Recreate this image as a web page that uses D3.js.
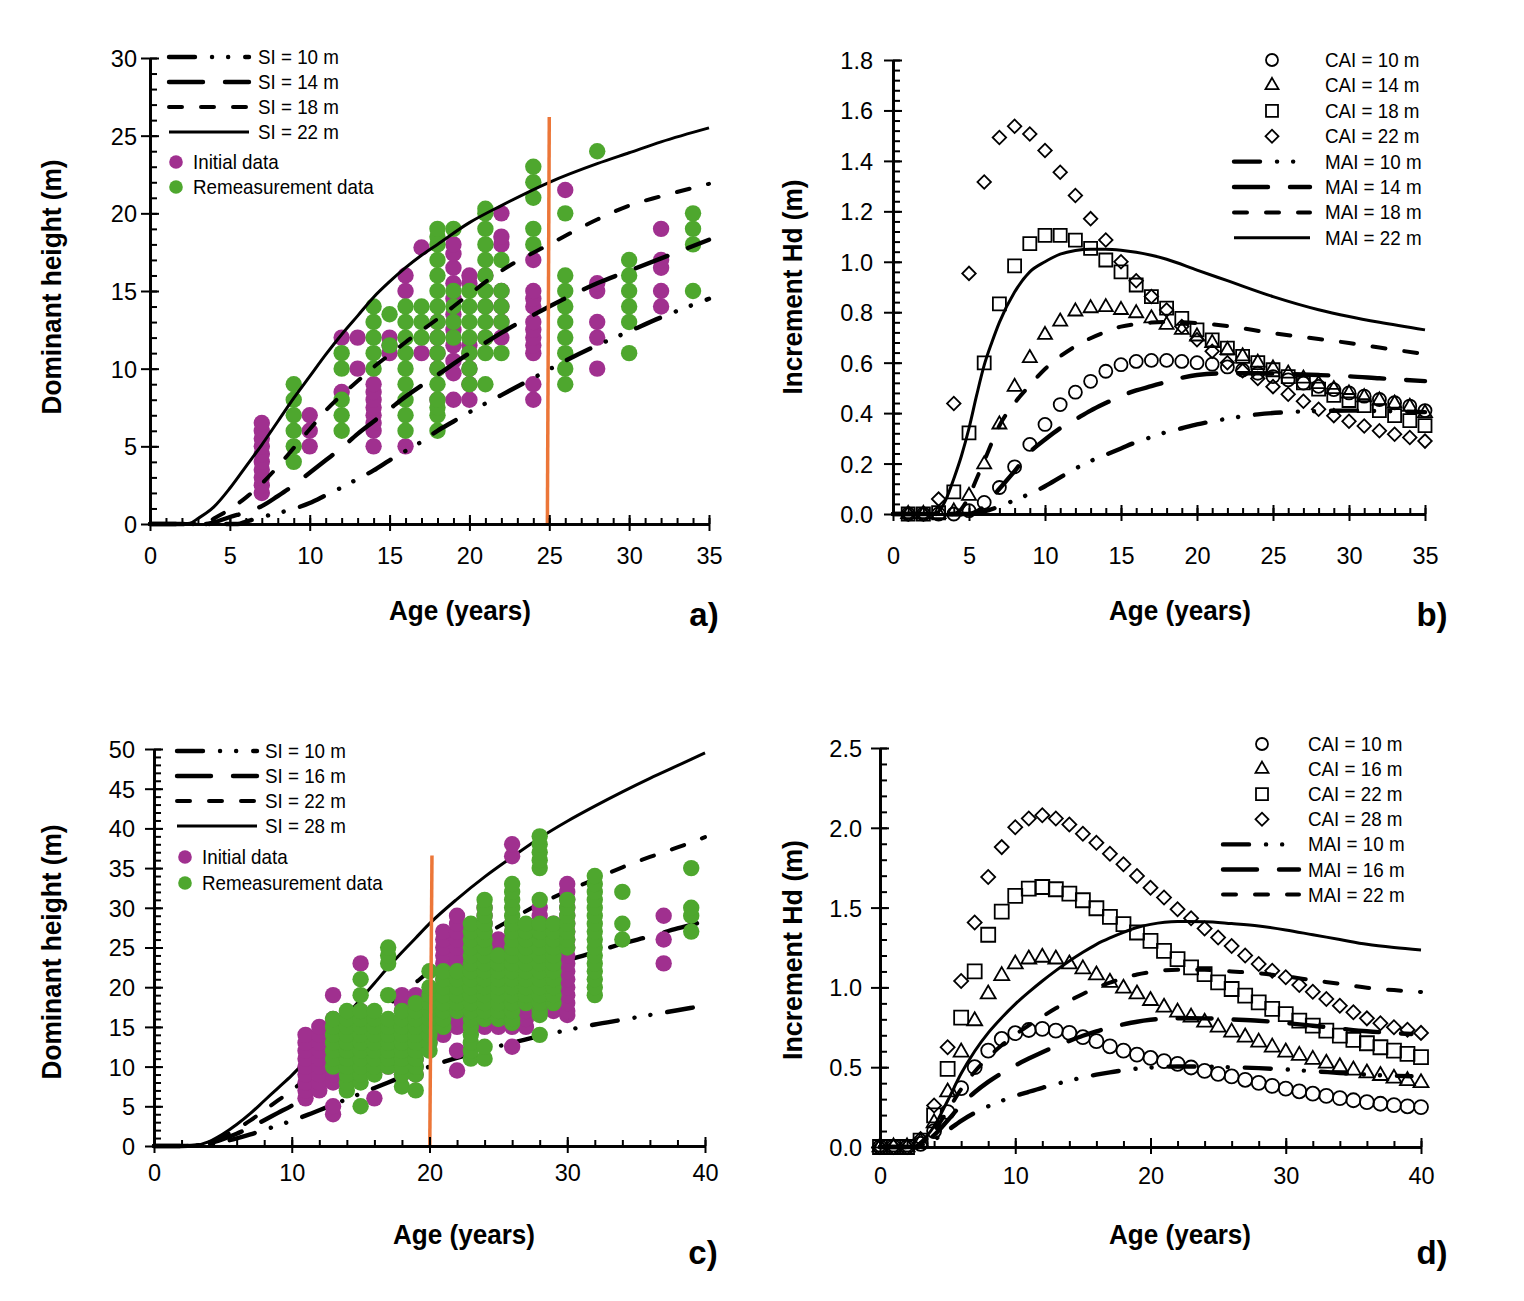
<!DOCTYPE html>
<html>
<head>
<meta charset="utf-8">
<script src="https://cdn.jsdelivr.net/npm/d3@7"></script>
<style>
  body { margin: 0; background: #fff; }
  svg { display: block; }
</style>
</head>
<body>
<svg id="chart" width="1524" height="1301"></svg>
<script>
// ---------- panel a : site index curves + observed heights ----------
const aXTicks = [0, 5, 10, 15, 20, 25, 30, 35]
const aYTicks = [0, 5, 10, 15, 20, 25, 30]
const aSI10 = [[0,0],[5.5,0],[6,0.15],[7,0.45],[8,0.7],[9,0.98],[10,1.35],[11,1.85],[12,2.35],[13,2.9],[14,3.45],[15,4.1],[16,4.7],[17,5.3],[18,6.0],[19,6.6],[20,7.2],[22,8.3],[24,9.4],[26,10.5],[28,11.5],[30,12.4],[32,13.3],[35,14.5]]
const aSI14 = [[0,0],[3.5,0],[4,0.1],[5,0.45],[6,0.75],[7,1.15],[8,1.8],[9,2.5],[10,3.3],[11,4.1],[12,4.9],[13,5.8],[14,6.6],[15,7.4],[16,8.2],[18,9.6],[20,11.0],[22,12.3],[25,14],[28,15.5],[30,16.3],[32,17.1],[35,18.3]]
const aSI18 = [[0,0],[3.4,0],[4,0.35],[5,0.95],[6,1.7],[7,2.6],[8,3.7],[9,4.9],[10,6.1],[11,7.3],[12,8.3],[13,9.2],[14,10.1],[15,10.9],[16,11.7],[18,13.2],[20,14.8],[22,16.3],[25,18],[28,19.6],[30,20.5],[32,21.1],[35,21.9]]
const aSI22 = [[0,0],[2,0],[2.5,0.05],[3,0.35],[4,1.1],[5,2.3],[6,3.7],[7,5.1],[8,6.6],[9,8.1],[10,9.5],[11,10.9],[12,12.2],[13,13.4],[14,14.6],[15,15.6],[16,16.5],[17,17.3],[18,18.0],[20,19.4],[22,20.5],[25,22],[28,23.2],[30,23.9],[32,24.6],[35,25.5]]
const aRefLine = [[25.0, 26.2], [24.88, 0]]
// [age, heights]
const aInitial = [
  [7, [2, 2.5, 3, 3.5, 4, 4.5, 5, 5.5, 6, 6.5]],
  [10, [5, 6, 7]],
  [12, [8.5, 12]],
  [13, [10, 12]],
  [14, [5, 6, 6.5, 7, 7.5, 8, 8.5, 9]],
  [15, [11, 11.5, 12]],
  [16, [5, 15, 16]],
  [17, [11, 17.8]],
  [18, [8, 10, 11, 12, 13]],
  [19, [8, 9.7, 10.5, 11.5, 12.5, 13.5, 14.5, 15.5, 16.5, 17.4, 18]],
  [20, [8, 9, 10, 11, 11.5, 15.5, 16]],
  [21, [12, 14, 16]],
  [22, [12, 13, 14, 15, 18, 18.5, 20]],
  [24, [8, 9, 11, 11.5, 12, 12.5, 13, 14, 14.5, 15, 17]],
  [26, [21.5]],
  [28, [10, 12, 13, 15, 15.5]],
  [32, [14, 15, 16.5, 17, 19]]
]
const aRemeasured = [
  [9, [4, 5, 6, 7, 8, 9]],
  [12, [6, 7, 8, 10, 11]],
  [14, [10, 11, 12, 13, 14]],
  [15, [11.5, 13.5]],
  [16, [6, 7, 8, 9, 10, 11, 12, 13, 14]],
  [17, [12, 13, 14]],
  [18, [6, 7, 7.5, 8, 9, 10, 11, 12, 13, 14, 15, 16, 17, 18, 18.5, 19]],
  [19, [12, 13, 14, 15, 19]],
  [20, [9, 10, 11, 12, 13, 14, 15]],
  [21, [9, 11, 12, 13, 14, 15, 16, 17, 18, 19, 20, 20.3]],
  [22, [11, 13, 14, 15, 17]],
  [24, [18, 19, 21, 22, 23]],
  [26, [9, 10, 11, 12, 13, 14, 15, 16, 20]],
  [28, [24]],
  [30, [11, 13, 14, 15, 16, 17]],
  [34, [15, 18, 19, 20]]
]

// ---------- panel b : increments, SI 10-22 ----------
const bXTicks = [0, 5, 10, 15, 20, 25, 30, 35]
const bYTicks = [0, 0.2, 0.4, 0.6, 0.8, 1.0, 1.2, 1.4, 1.6, 1.8]
const bAges = d3.range(1, 36)
const bCAI10 = [0,0,0,0,0.013,0.046,0.105,0.187,0.276,0.355,0.434,0.483,0.526,0.566,0.592,0.605,0.609,0.609,0.605,0.600,0.594,0.583,0.571,0.558,0.545,0.532,0.519,0.506,0.493,0.480,0.467,0.454,0.441,0.428,0.410]
const bCAI14 = [0,0,0,0.01,0.072,0.197,0.355,0.504,0.618,0.71,0.763,0.803,0.816,0.82,0.809,0.796,0.776,0.75,0.73,0.704,0.678,0.65,0.625,0.6,0.577,0.557,0.537,0.515,0.495,0.478,0.463,0.45,0.438,0.425,0.40]
const bCAI18 = [0,0,0.005,0.088,0.322,0.599,0.833,0.984,1.072,1.105,1.105,1.086,1.053,1.007,0.96,0.908,0.862,0.816,0.776,0.73,0.69,0.658,0.625,0.6,0.572,0.545,0.52,0.495,0.47,0.45,0.43,0.41,0.39,0.37,0.35]
const bCAI22 = [0,0,0.059,0.438,0.954,1.316,1.493,1.537,1.507,1.441,1.355,1.263,1.171,1.086,1.0,0.925,0.862,0.809,0.743,0.691,0.645,0.6,0.568,0.537,0.505,0.475,0.447,0.415,0.39,0.368,0.349,0.33,0.316,0.303,0.289]
const bMAI10 = [[0,0],[5,0],[6,0.01],[7,0.03],[8,0.055],[9,0.08],[10,0.11],[11,0.145],[12,0.18],[13,0.21],[14,0.235],[15,0.26],[16,0.285],[17,0.305],[18,0.325],[19,0.34],[20,0.355],[22,0.378],[24,0.395],[26,0.404],[28,0.408],[30,0.41],[32,0.408],[35,0.404]]
const bMAI14 = [[0,0],[5,0],[5.5,0.01],[6,0.03],[7,0.1],[8,0.17],[9,0.245],[10,0.295],[11,0.34],[12,0.375],[13,0.41],[14,0.44],[15,0.468],[16,0.49],[17,0.507],[18,0.524],[19,0.54],[20,0.551],[22,0.558],[24,0.558],[26,0.555],[28,0.551],[30,0.546],[32,0.538],[35,0.527]]
const bMAI18 = [[0,0],[4,0],[4.5,0.02],[5,0.07],[5.5,0.14],[6,0.21],[7,0.35],[8,0.44],[9,0.51],[10,0.575],[11,0.625],[12,0.665],[13,0.697],[14,0.722],[15,0.743],[16,0.753],[17,0.759],[18,0.761],[19,0.76],[20,0.757],[22,0.745],[25,0.717],[28,0.694],[30,0.678],[32,0.66],[35,0.634]]
const bMAI22 = [[0,0],[2.5,0],[3,0.01],[3.5,0.06],[4,0.14],[4.5,0.23],[5,0.34],[5.5,0.47],[6,0.59],[6.5,0.68],[7,0.76],[8,0.88],[9,0.96],[10,1.0],[11,1.03],[12,1.045],[13,1.05],[14,1.05],[15,1.046],[16,1.038],[17,1.026],[18,1.01],[20,0.967],[22,0.925],[25,0.862],[28,0.81],[30,0.783],[32,0.76],[35,0.73]]

// ---------- panel c : site index curves + observed heights ----------
const cXTicks = [0, 10, 20, 30, 40]
const cYTicks = [0, 5, 10, 15, 20, 25, 30, 35, 40, 45, 50]
const cSI10 = [[0,0],[2,0],[3,0.03],[4,0.2],[5,0.54],[6,0.96],[7,1.46],[8,2.03],[9,2.6],[10,3.18],[11,3.82],[12,4.5],[13,5.2],[14,5.9],[15,6.6],[16,7.3],[17,8.0],[18,8.7],[19,9.35],[20,10],[22,11.1],[24,12.1],[26,13.0],[28,13.85],[30,14.6],[32,15.3],[34,15.9],[36,16.5],[38,17.1],[40,17.7]]
const cSI16 = [[0,0],[2,0],[3,0.05],[4,0.32],[5,0.86],[6,1.54],[7,2.34],[8,3.25],[9,4.17],[10,5.08],[11,6.1],[12,7.2],[13,8.3],[14,9.4],[15,10.6],[16,11.7],[17,12.85],[18,13.9],[19,15.0],[20,16],[22,17.8],[24,19.4],[26,20.8],[28,22.2],[30,23.4],[32,24.4],[34,25.5],[36,26.4],[38,27.4],[40,28.3]]
const cSI22 = [[0,0],[2,0],[3,0.07],[4,0.44],[5,1.18],[6,2.12],[7,3.22],[8,4.48],[9,5.74],[10,7.0],[11,8.4],[12,9.9],[13,11.5],[14,13.0],[15,14.5],[16,16.1],[17,17.7],[18,19.2],[19,20.6],[20,22],[22,24.4],[24,26.6],[26,28.6],[28,30.5],[30,32.1],[32,33.6],[34,35.1],[36,36.4],[38,37.6],[40,38.9]]
const cSI28 = [[0,0],[2,0],[3,0.09],[4,0.56],[5,1.5],[6,2.7],[7,4.1],[8,5.7],[9,7.3],[10,8.9],[11,10.7],[12,12.6],[13,14.6],[14,16.5],[15,18.5],[16,20.5],[17,22.5],[18,24.4],[19,26.2],[20,28],[22,31.1],[24,33.9],[26,36.4],[28,38.8],[30,40.9],[32,42.8],[34,44.6],[36,46.3],[38,47.9],[40,49.5]]
const cRefLine = [[20.18, 36.6], [20.02, 0]]
const cInitial = [
  [11, [6, 7, 8, 9, 10, 11, 12, 13, 14]],
  [12, [7, 8, 9, 10, 11, 12, 13, 14, 15]],
  [13, [4, 5, 8, 9, 10, 11, 12, 13, 14, 15, 16, 19]],
  [14, [11, 12, 13, 14]],
  [15, [11, 12, 13, 14, 15, 16, 17, 23]],
  [16, [6, 11, 12, 13, 14, 15, 16]],
  [17, [10, 11, 12, 13, 14]],
  [18, [9, 10, 11, 12, 13, 14, 15, 16, 17, 18, 19]],
  [19, [9, 10, 11, 12, 13, 14, 15, 16, 17, 18, 19]],
  [20, [13, 14, 15, 16, 17, 18, 19]],
  [21, [14, 15, 16, 17, 18, 19, 20, 21, 22, 23, 24, 25, 26, 27]],
  [22, [9.5, 12, 15, 16, 17, 18, 19, 20, 21, 22, 23, 24, 25, 26, 27, 28, 29]],
  [23, [16, 17, 18, 19, 20, 21, 22, 23, 24]],
  [24, [15, 25, 26, 27, 28, 29, 30]],
  [25, [15, 16, 17, 18, 19, 20, 21, 22, 23, 24, 25, 26]],
  [26, [12.5, 15, 16, 17, 18, 19, 20, 21, 22, 23, 24, 25, 26, 27, 28, 36.5, 38]],
  [27, [15, 16, 17, 18, 19, 20, 21, 22, 23, 24, 25, 26]],
  [28, [17, 18, 19, 20, 21, 22, 23, 24, 25, 26, 27, 28, 29, 30]],
  [29, [17, 18, 19, 20, 21, 22, 23, 24, 25, 26, 27, 28]],
  [30, [16.5, 17, 18, 19, 20, 21, 22, 23, 24, 25, 26, 27, 28, 29, 30, 31, 32, 33]],
  [37, [23, 26, 29]]
]
const cRemeasured = [
  [13, [10, 11, 12, 13, 14, 15, 16]],
  [14, [7, 8, 9, 10, 11, 12, 13, 14, 15, 16, 17]],
  [15, [5, 8, 9, 10, 11, 12, 13, 14, 15, 16, 17, 19, 21]],
  [16, [9, 10, 11, 12, 13, 14, 15, 16, 17]],
  [17, [10, 11, 12, 13, 14, 15, 16, 19, 23, 24, 25]],
  [18, [7.5, 9, 10, 11, 12, 13, 14, 15, 16, 17]],
  [19, [7, 9, 10, 11, 12, 13, 14, 15, 16, 17, 18]],
  [20, [12, 13, 14, 15, 16, 17, 18, 19, 20, 22]],
  [21, [15, 16, 17, 18, 19, 20, 21, 22]],
  [22, [17, 18, 19, 20, 21, 22]],
  [23, [11, 12, 13, 14, 15, 16, 17, 18, 19, 20, 21, 22, 23, 24, 25, 26, 27, 28]],
  [24, [11, 12.5, 16, 17, 18, 19, 20, 21, 22, 23, 24, 25, 26, 27, 28, 29, 30, 31]],
  [25, [16, 17, 18, 19, 20, 21, 22, 23, 24]],
  [26, [15.5, 16, 17, 18, 19, 20, 21, 22, 23, 24, 25, 26, 27, 28, 29, 30, 31, 32, 33]],
  [27, [18, 19, 20, 21, 22, 23, 24, 25, 26, 27, 28]],
  [28, [14, 16.5, 17, 18, 19, 20, 21, 22, 23, 24, 25, 26, 27, 28, 31, 35, 36, 37, 38, 39]],
  [29, [18, 19, 20, 21, 22, 23, 24, 25, 26, 27, 28]],
  [30, [25, 26, 27, 28, 29, 30, 31]],
  [32, [19, 20, 21, 22, 23, 24, 25, 26, 27, 28, 29, 30, 31, 32, 33, 34]],
  [34, [26, 28, 32]],
  [39, [27, 29, 30, 35]]
]

// ---------- panel d : increments, SI 10-28 ----------
const dXTicks = [0, 10, 20, 30, 40]
const dYTicks = [0, 0.5, 1.0, 1.5, 2.0, 2.5]
const dAges = d3.range(0, 41)
const dCAI10 = [0,0,0,0.02,0.1,0.219,0.369,0.5,0.604,0.677,0.713,0.733,0.74,0.729,0.715,0.688,0.663,0.631,0.604,0.579,0.558,0.538,0.521,0.498,0.477,0.458,0.442,0.421,0.402,0.383,0.366,0.349,0.334,0.32,0.306,0.293,0.281,0.271,0.262,0.255,0.25]
const dCAI16 = [0,0,0,0.03,0.15,0.344,0.594,0.79,0.958,1.073,1.146,1.177,1.188,1.177,1.146,1.115,1.077,1.031,0.994,0.958,0.917,0.875,0.844,0.813,0.781,0.75,0.719,0.688,0.656,0.625,0.594,0.573,0.548,0.524,0.502,0.481,0.463,0.447,0.43,0.415,0.402]
const dCAI22 = [0,0,0,0.04,0.198,0.49,0.81,1.1,1.33,1.475,1.573,1.619,1.629,1.615,1.588,1.546,1.496,1.442,1.396,1.344,1.292,1.229,1.177,1.125,1.083,1.031,0.99,0.948,0.906,0.865,0.833,0.792,0.76,0.729,0.698,0.671,0.65,0.625,0.604,0.583,0.5625]
const dCAI28 = [0,0,0,0.05,0.26,0.625,1.04,1.406,1.692,1.879,2.004,2.058,2.079,2.058,2.021,1.963,1.906,1.838,1.771,1.698,1.625,1.563,1.49,1.433,1.369,1.313,1.26,1.2,1.146,1.104,1.063,1.015,0.973,0.927,0.885,0.844,0.806,0.775,0.75,0.735,0.715]
const dMAI10 = [[0,0],[2.5,0],[3,0.011],[4,0.046],[5,0.104],[6,0.164],[7,0.214],[8,0.255],[9,0.289],[10,0.32],[11,0.346],[12,0.371],[13,0.394],[14,0.416],[15,0.436],[16,0.453],[17,0.468],[18,0.48],[19,0.491],[20,0.498],[22,0.504],[24,0.504],[26,0.5],[28,0.494],[30,0.486],[32,0.475],[34,0.464],[36,0.453],[38,0.446],[39.3,0.443]]
const dMAI16 = [[0,0],[2.5,0],[3,0.017],[4,0.074],[5,0.166],[6,0.263],[7,0.343],[8,0.408],[9,0.463],[10,0.511],[11,0.554],[12,0.594],[13,0.631],[14,0.665],[15,0.697],[16,0.725],[17,0.748],[18,0.768],[19,0.785],[20,0.797],[22,0.807],[24,0.806],[26,0.799],[28,0.791],[30,0.777],[32,0.76],[34,0.742],[36,0.725],[38,0.714],[39.3,0.708]]
const dMAI22 = [[0,0],[2.5,0],[3,0.024],[4,0.102],[5,0.228],[6,0.362],[7,0.472],[8,0.562],[9,0.637],[10,0.703],[11,0.762],[12,0.817],[13,0.869],[14,0.916],[15,0.959],[16,0.998],[17,1.03],[18,1.057],[19,1.081],[20,1.096],[22,1.111],[24,1.11],[26,1.10],[28,1.089],[30,1.069],[32,1.045],[34,1.022],[36,0.998],[38,0.983],[40,0.971]]
const dMAI28 = [[0,0],[2.5,0],[3,0.03],[4,0.13],[5,0.29],[6,0.46],[7,0.6],[8,0.715],[9,0.81],[10,0.895],[11,0.97],[12,1.04],[13,1.105],[14,1.165],[15,1.22],[16,1.27],[17,1.31],[18,1.345],[19,1.375],[20,1.395],[22,1.413],[24,1.412],[26,1.40],[28,1.385],[30,1.36],[32,1.33],[34,1.30],[36,1.27],[38,1.25],[40,1.235]]

// ---------- drawing ----------
const FONT = '"Liberation Sans", Arial, Helvetica, sans-serif'
const MAGENTA = '#a0308f'
const GREEN = '#4ea72e'
const ORANGE = '#ec7638'

const STYLES = {
  dashDot: { dash: '26,17,0.1,16,0.1,17', w: 4.4 },
  longDash: { dash: '34,22', w: 4.4 },
  shortDash: { dash: '13,19', w: 4.0 },
  solid: { dash: null, w: 3 }
}

const svg = d3.select('#chart')

const panels = {
  a: { x: d3.scaleLinear([0, 35], [150, 709]), y: d3.scaleLinear([0, 30], [524, 58]),
       xTicks: aXTicks, xMinor: d3.range(0, 35.01, 1), yTicks: aYTicks, yMinor: d3.range(0, 30.01, 1),
       xFmt: d3.format('d'), yFmt: d3.format('d'), xLab: 40, yLab: 13 },
  b: { x: d3.scaleLinear([0, 35], [893, 1425]), y: d3.scaleLinear([0, 1.8], [514, 60]),
       xTicks: bXTicks, xMinor: d3.range(0, 35.01, 1), yTicks: bYTicks, yMinor: d3.range(0, 1.801, 0.04),
       xFmt: d3.format('d'), yFmt: d3.format('.1f'), xLab: 50, yLab: 20 },
  c: { x: d3.scaleLinear([0, 40], [154, 705]), y: d3.scaleLinear([0, 50], [1146, 749]),
       xTicks: cXTicks, xMinor: d3.range(0, 40.01, 2), yTicks: cYTicks, yMinor: d3.range(0, 50.01, 1),
       xFmt: d3.format('d'), yFmt: d3.format('d'), xLab: 35, yLab: 19 },
  d: { x: d3.scaleLinear([0, 40], [880, 1421]), y: d3.scaleLinear([0, 2.5], [1147, 748]),
       xTicks: dXTicks, xMinor: d3.range(0, 40.01, 2), yTicks: dYTicks, yMinor: d3.range(0, 2.501, 0.1),
       xFmt: d3.format('d'), yFmt: d3.format('.1f'), xLab: 37, yLab: 18 }
}

function drawAxes(p) {
  const g = svg.append('g')
  const x0 = p.x.range()[0]
  const y0 = p.y.range()[0]
  const bottom = (ticks, size, fmt) => g.append('g')
    .attr('transform', `translate(0,${y0})`)
    .call(d3.axisBottom(p.x).tickValues(ticks).tickSize(size).tickSizeOuter(0).tickFormat(fmt))
  const left = (ticks, size, fmt) => g.append('g')
    .attr('transform', `translate(${x0},0)`)
    .call(d3.axisLeft(p.y).tickValues(ticks).tickSize(size).tickSizeOuter(0).tickFormat(fmt))

  bottom(p.xMinor, -6, '')
  bottom(p.xTicks, -9, '')
  const xl = bottom(p.xTicks, 7, p.xFmt)
  left(p.yMinor, -7, '')
  left(p.yTicks, -9, '')
  const yl = left(p.yTicks, 9, p.yFmt)

  xl.selectAll('text').attr('y', p.xLab).attr('dy', null)
  yl.selectAll('text').attr('x', -p.yLab).attr('dy', '0.36em')
  g.selectAll('g').attr('font-size', 23.5).attr('font-family', FONT)
  g.selectAll('.domain').attr('stroke-width', 2.5)
  g.selectAll('.tick line').attr('stroke-width', 2)
  g.selectAll('text').attr('fill', '#000')
}

function drawDots(p, cols, color) {
  const pts = cols.flatMap(([age, hs]) => hs.map(h => [age, h]))
  svg.append('g').selectAll('circle').data(pts).join('circle')
    .attr('cx', d => p.x(d[0]))
    .attr('cy', d => p.y(d[1]))
    .attr('r', 8.2)
    .attr('fill', color)
}

function styled(sel, style) {
  const st = STYLES[style]
  return sel.attr('fill', 'none').attr('stroke', '#000')
    .attr('stroke-width', st.w)
    .attr('stroke-dasharray', st.dash)
    .attr('stroke-linecap', st.dash ? 'round' : 'butt')
}

function drawCurve(p, pts, style) {
  const line = d3.line().x(d => p.x(d[0])).y(d => p.y(d[1])).curve(d3.curveMonotoneX)
  styled(svg.append('path').attr('d', line(pts)), style)
}

function drawRef(p, pts) {
  const line = d3.line().x(d => p.x(d[0])).y(d => p.y(d[1]))
  svg.append('path').attr('d', line(pts))
    .attr('stroke', ORANGE).attr('stroke-width', 3.5).attr('fill', 'none')
}

function symbolPath(type, s) {
  if (type === 'circle') return d3.symbol(d3.symbolCircle, Math.PI * (s / 2) * (s / 2))()
  if (type === 'square') return d3.symbol(d3.symbolSquare, s * s)()
  if (type === 'triangle') return d3.symbol(d3.symbolTriangle, 3 * Math.sqrt(3) * Math.pow(s / (2 * Math.sqrt(3)), 2))()
  // diamond: rotated square
  return d3.symbol(d3.symbolSquare, (s * s) / 2)()
}

function drawMarkers(p, ages, vals, type, s) {
  svg.append('g').selectAll('path').data(vals.map((v, i) => [ages[i], v])).join('path')
    .attr('transform', d => `translate(${p.x(d[0])},${p.y(d[1])})${type === 'diamond' ? ' rotate(45)' : ''}`)
    .attr('d', symbolPath(type, s))
    .attr('fill', 'none').attr('stroke', '#000').attr('stroke-width', 1.8)
}

function label(x, y, str, o = {}) {
  const t = svg.append('text')
    .attr('transform', `translate(${x},${y})${o.rotate ? ' rotate(-90)' : ''}${o.sx ? ` scale(${o.sx},1)` : ''}`)
    .attr('font-family', FONT)
    .attr('font-size', o.size || 20)
    .attr('font-weight', o.bold ? 'bold' : null)
    .attr('text-anchor', o.anchor || 'start')
    .attr('fill', '#000')
    .text(str)
  if (o.len) t.attr('textLength', o.len).attr('lengthAdjust', 'spacingAndGlyphs')
  return t
}

function legendLine(x1, x2, y, style, text, tx) {
  styled(svg.append('path').attr('d', `M${x1},${y}H${x2}`), style)
  label(tx, y + 7, text, { sx: 0.94 })
}

function legendDot(x, y, color, text, tx) {
  svg.append('circle').attr('cx', x).attr('cy', y).attr('r', 6.8).attr('fill', color)
  label(tx, y + 7, text, { sx: 0.94 })
}

function legendMarker(x, y, type, s, text, tx) {
  svg.append('path')
    .attr('transform', `translate(${x},${y})${type === 'diamond' ? ' rotate(45)' : ''}`)
    .attr('d', symbolPath(type, s))
    .attr('fill', 'none').attr('stroke', '#000').attr('stroke-width', 1.8)
  label(tx, y + 7, text, { sx: 0.94 })
}

// ----- panel a -----
{
  const p = panels.a
  drawDots(p, aInitial, MAGENTA)
  drawDots(p, aRemeasured, GREEN)
  drawCurve(p, aSI10, 'dashDot')
  drawCurve(p, aSI14, 'longDash')
  drawCurve(p, aSI18, 'shortDash')
  drawCurve(p, aSI22, 'solid')
  drawRef(p, aRefLine)
  drawAxes(p)
  const rows = [['dashDot', 'SI = 10 m'], ['longDash', 'SI = 14 m'], ['shortDash', 'SI = 18 m'], ['solid', 'SI = 22 m']]
  rows.forEach(([s, t], i) => legendLine(169, 249, 57 + 25 * i, s, t, 258))
  legendDot(176, 162, MAGENTA, 'Initial data', 193)
  legendDot(176, 187, GREEN, 'Remeasurement data', 193)
  label(61, 287, 'Dominant height (m)', { size: 27, bold: true, anchor: 'middle', rotate: true, len: 255 })
  label(460, 620, 'Age (years)', { size: 27, bold: true, anchor: 'middle', len: 142 })
  label(704, 626, 'a)', { size: 33, bold: true, anchor: 'middle' })
}

// ----- panel b -----
{
  const p = panels.b
  drawCurve(p, bMAI10, 'dashDot')
  drawCurve(p, bMAI14, 'longDash')
  drawCurve(p, bMAI18, 'shortDash')
  drawCurve(p, bMAI22, 'solid')
  drawMarkers(p, bAges, bCAI10, 'circle', 13)
  drawMarkers(p, bAges, bCAI14, 'triangle', 14)
  drawMarkers(p, bAges, bCAI18, 'square', 13)
  drawMarkers(p, bAges, bCAI22, 'diamond', 13.5)
  drawAxes(p)
  const mk = [['circle', 12, 'CAI = 10 m'], ['triangle', 13, 'CAI = 14 m'], ['square', 12, 'CAI = 18 m'], ['diamond', 13, 'CAI = 22 m']]
  mk.forEach(([t, s, txt], i) => legendMarker(1272, 60 + 25.4 * i, t, s, txt, 1325))
  const ln = [['dashDot', 'MAI = 10 m'], ['longDash', 'MAI = 14 m'], ['shortDash', 'MAI = 18 m'], ['solid', 'MAI = 22 m']]
  ln.forEach(([s, t], i) => legendLine(1234, 1310, 60 + 25.4 * (i + 4), s, t, 1325))
  label(802, 287, 'Increment Hd (m)', { size: 27, bold: true, anchor: 'middle', rotate: true, len: 215 })
  label(1180, 620, 'Age (years)', { size: 27, bold: true, anchor: 'middle', len: 142 })
  label(1432, 626, 'b)', { size: 33, bold: true, anchor: 'middle' })
}

// ----- panel c (curves sit under the dense point cloud) -----
{
  const p = panels.c
  drawCurve(p, cSI10, 'dashDot')
  drawCurve(p, cSI16, 'longDash')
  drawCurve(p, cSI22, 'shortDash')
  drawCurve(p, cSI28, 'solid')
  drawDots(p, cInitial, MAGENTA)
  drawDots(p, cRemeasured, GREEN)
  drawRef(p, cRefLine)
  drawAxes(p)
  const rows = [['dashDot', 'SI = 10 m'], ['longDash', 'SI = 16 m'], ['shortDash', 'SI = 22 m'], ['solid', 'SI = 28 m']]
  rows.forEach(([s, t], i) => legendLine(177, 257, 751 + 25 * i, s, t, 265))
  legendDot(185, 857, MAGENTA, 'Initial data', 202)
  legendDot(185, 883, GREEN, 'Remeasurement data', 202)
  label(61, 952, 'Dominant height (m)', { size: 27, bold: true, anchor: 'middle', rotate: true, len: 255 })
  label(464, 1244, 'Age (years)', { size: 27, bold: true, anchor: 'middle', len: 142 })
  label(703, 1264, 'c)', { size: 33, bold: true, anchor: 'middle' })
}

// ----- panel d -----
{
  const p = panels.d
  drawCurve(p, dMAI10, 'dashDot')
  drawCurve(p, dMAI16, 'longDash')
  drawCurve(p, dMAI22, 'shortDash')
  drawCurve(p, dMAI28, 'solid')
  drawMarkers(p, dAges, dCAI10, 'circle', 14)
  drawMarkers(p, dAges, dCAI16, 'triangle', 15)
  drawMarkers(p, dAges, dCAI22, 'square', 14)
  drawMarkers(p, dAges, dCAI28, 'diamond', 14)
  drawAxes(p)
  const mk = [['circle', 12, 'CAI = 10 m'], ['triangle', 13, 'CAI = 16 m'], ['square', 12, 'CAI = 22 m'], ['diamond', 13, 'CAI = 28 m']]
  mk.forEach(([t, s, txt], i) => legendMarker(1262, 744 + 25.1 * i, t, s, txt, 1308))
  const ln = [['dashDot', 'MAI = 10 m'], ['longDash', 'MAI = 16 m'], ['shortDash', 'MAI = 22 m']]
  ln.forEach(([s, t], i) => legendLine(1223, 1299, 744 + 25.1 * (i + 4), s, t, 1308))
  label(802, 950, 'Increment Hd (m)', { size: 27, bold: true, anchor: 'middle', rotate: true, len: 220 })
  label(1180, 1244, 'Age (years)', { size: 27, bold: true, anchor: 'middle', len: 142 })
  label(1432, 1264, 'd)', { size: 33, bold: true, anchor: 'middle' })
}
</script>
</body>
</html>
